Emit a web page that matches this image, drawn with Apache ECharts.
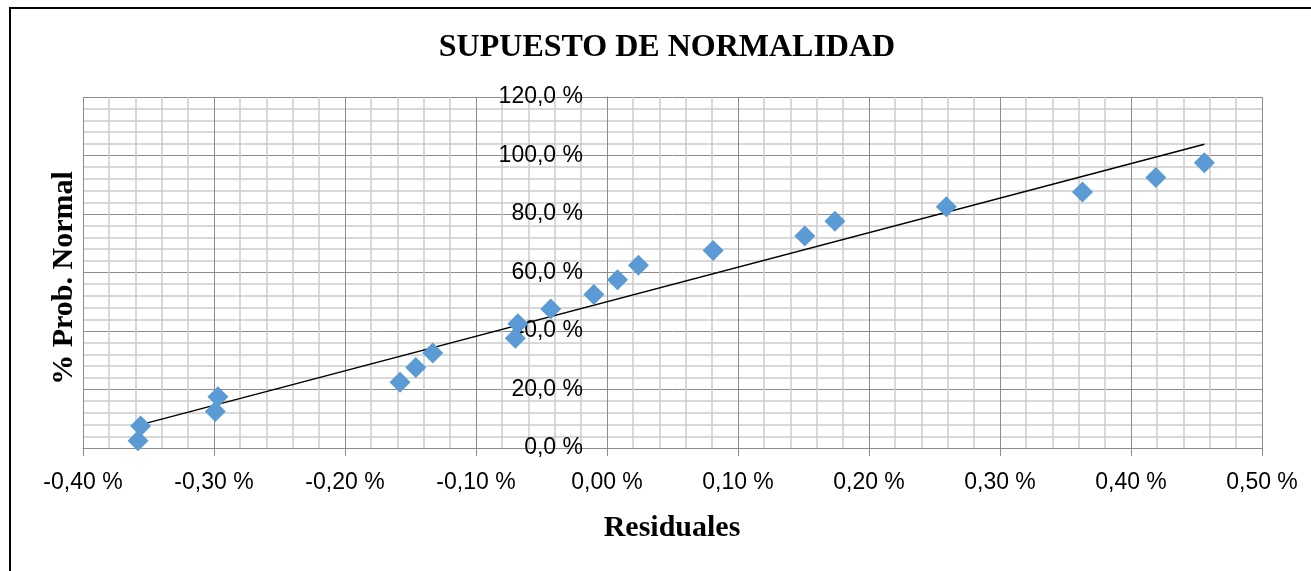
<!DOCTYPE html>
<html>
<head>
<meta charset="utf-8">
<script src="https://cdn.jsdelivr.net/npm/echarts@6/dist/echarts.min.js"></script>
<style>
  html, body { margin: 0; padding: 0; background: #fff; }
  #chart { width: 1311px; height: 571px; }
</style>
</head>
<body>
<div id="chart"></div>
<script>
// residuales (%) vs probabilidad normal (%)
var residuales = [-0.358, -0.356, -0.299, -0.297, -0.158, -0.146, -0.133, -0.070, -0.068, -0.043,
                  -0.010, 0.008, 0.024, 0.081, 0.151, 0.174, 0.259, 0.363, 0.419, 0.456];
var probNormal = [2.5, 7.5, 12.5, 17.5, 22.5, 27.5, 32.5, 37.5, 42.5, 47.5,
                  52.5, 57.5, 62.5, 67.5, 72.5, 77.5, 82.5, 87.5, 92.5, 97.5];
var xTicks = [-0.4, 0.5, 0.1];   // min, max, step
var yTicks = [0, 120, 20];

var puntos = residuales.map(function (x, i) { return [x, probNormal[i]]; });

// linear trendline (least squares), like excel's
var n = residuales.length, sx = 0, sy = 0, sxx = 0, sxy = 0;
for (var i = 0; i < n; i++) {
  sx += residuales[i]; sy += probNormal[i];
  sxx += residuales[i] * residuales[i]; sxy += residuales[i] * probNormal[i];
}
var m = (n * sxy - sx * sy) / (n * sxx - sx * sx);
var b = (sy - m * sx) / n;
var xMin = Math.min.apply(null, residuales), xMax = Math.max.apply(null, residuales);
var tendencia = [[xMin, m * xMin + b], [xMax, m * xMax + b]];

var gridL = 83, gridR = 49;
var plotW = 1311 - gridL - gridR;
// y axis sits at x = 0 of the residual scale
var yOffset = -(0 - xTicks[0]) / (xTicks[1] - xTicks[0]) * plotW;

var chart = echarts.init(document.getElementById('chart'));
chart.setOption({
  animation: false,
  grid: { left: gridL, right: gridR, top: 97, bottom: 123, containLabel: false, outerBoundsMode: 'none' },
  xAxis: {
    type: 'value',
    min: xTicks[0], max: xTicks[1], interval: xTicks[2],
    axisLine: { onZero: false, lineStyle: { color: '#8c8c8c', width: 1 } },
    axisTick: { show: true, length: 8, lineStyle: { color: '#8c8c8c' } },
    minorTick: { show: false, splitNumber: 5 },
    splitLine: { show: true, lineStyle: { color: '#8c8c8c', width: 1 } },
    minorSplitLine: { show: true, lineStyle: { color: '#cbcbcb', width: 1.5 } },
    axisLabel: {
      margin: 23,
      color: '#000',
      fontFamily: 'Liberation Sans',
      fontSize: 23,
      formatter: function (v) { return v.toFixed(2).replace('.', ',') + ' %'; }
    }
  },
  yAxis: {
    type: 'value',
    min: yTicks[0], max: yTicks[1], interval: yTicks[2],
    offset: yOffset,
    axisLine: { show: true, onZero: false, lineStyle: { color: '#8c8c8c', width: 1 } },
    axisTick: { show: true, length: 9, lineStyle: { color: '#8c8c8c' } },
    minorTick: { show: false, splitNumber: 5 },
    splitLine: { show: true, lineStyle: { color: '#8c8c8c', width: 1 } },
    minorSplitLine: { show: true, lineStyle: { color: '#cbcbcb', width: 1.5 } },
    axisLabel: {
      margin: 24,
      color: '#000',
      fontFamily: 'Liberation Sans',
      fontSize: 23,
      formatter: function (v) { return v.toFixed(1).replace('.', ',') + ' %'; }
    }
  },
  series: [
    {
      type: 'line',
      data: tendencia,
      showSymbol: false,
      symbol: 'none',
      lineStyle: { color: '#000', width: 1.5 },
      z: 2
    },
    {
      type: 'scatter',
      data: puntos,
      symbol: 'diamond',
      symbolSize: [21, 21],
      itemStyle: { color: '#5b9bd5', opacity: 1 },
      z: 3
    }
  ],
  graphic: [
    {
      type: 'rect',
      shape: { x: 10, y: 8, width: 1320, height: 600 },
      style: { fill: 'none', stroke: '#000', lineWidth: 2 },
      silent: true
    },
    {
      type: 'text', x: 667, y: 48,
      style: {
        text: 'SUPUESTO DE NORMALIDAD',
        font: 'bold 32px "Liberation Serif"',
        fill: '#000', align: 'center', verticalAlign: 'middle'
      }
    },
    {
      type: 'text', x: 672, y: 528,
      style: {
        text: 'Residuales',
        font: 'bold 30px "Liberation Serif"',
        fill: '#000', align: 'center', verticalAlign: 'middle'
      }
    },
    {
      type: 'text', x: 64, y: 278, rotation: Math.PI / 2,
      style: {
        text: '% Prob. Normal',
        font: 'bold 30px "Liberation Serif"',
        fill: '#000', align: 'center', verticalAlign: 'middle'
      }
    }
  ]
});
</script>
</body>
</html>
